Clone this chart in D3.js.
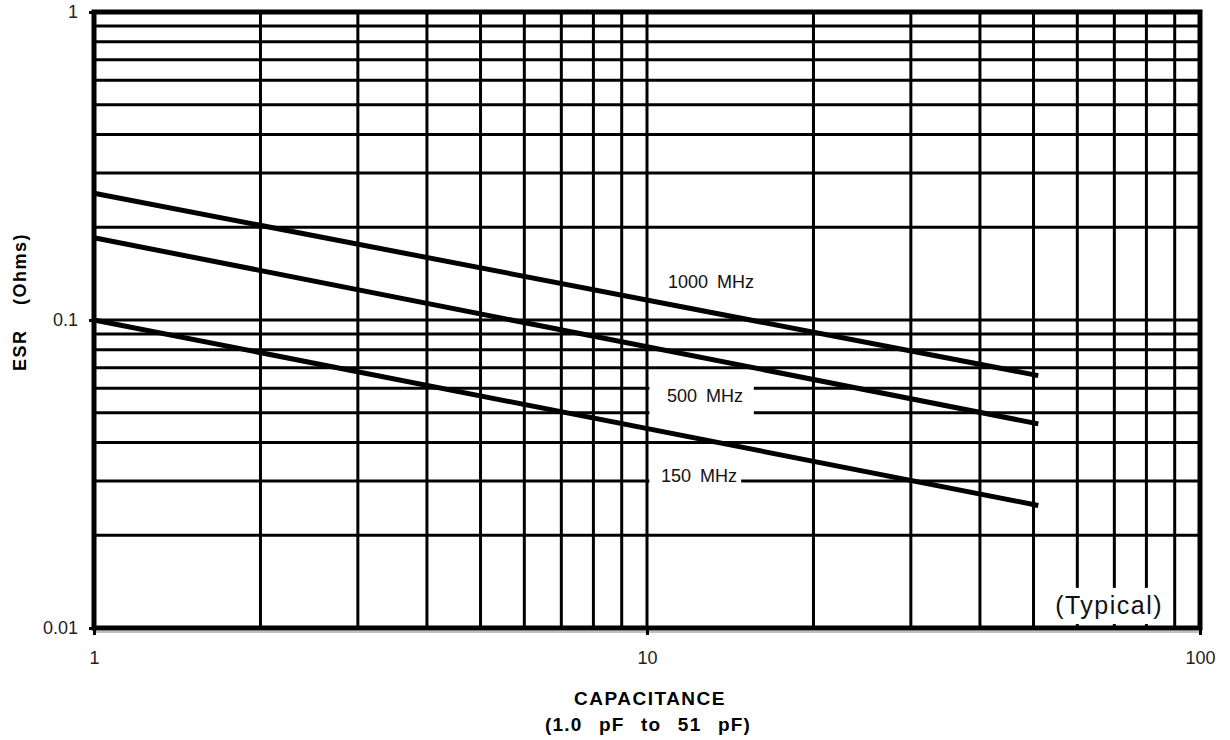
<!DOCTYPE html>
<html>
<head>
<meta charset="utf-8">
<script src="https://cdn.jsdelivr.net/npm/d3@7"></script>
<style>
  body { margin: 0; background: #fff; }
  text { font-family: "Liberation Sans", Arial, sans-serif; }
</style>
</head>
<body>
<div class="canvas"></div>
<script>
// data
const capacitance = [1, 51]
const series1000 = [0.258, 0.066]
const series500 = [0.185, 0.046]
const series150 = [0.1, 0.025]
const seriesNames = ['1000 MHz', '500 MHz', '150 MHz']
const xTicks = [1, 10, 100]
const yTicks = [1, 0.1, 0.01]
const xTickLabels = ['1', '10', '100']
const yTickLabels = ['1', '0.1', '0.01']

const svg = d3.select('.canvas')
  .append('svg')
  .attr('width', 1230)
  .attr('height', 740)

const margin = { top: 12, right: 30, bottom: 112, left: 94 }
const graphWidth = 1230 - margin.left - margin.right   // 1106
const graphHeight = 740 - margin.top - margin.bottom   // 616

const graph = svg.append('g')
  .attr('transform', `translate(${margin.left}, ${margin.top})`)

// scales
const x = d3.scaleLog().domain([1, 100]).range([0, graphWidth])
const y = d3.scaleLog().domain([0.01, 1]).range([graphHeight, 0])

// minor grid values (2..9 in each decade)
const minorX = [], minorY = []
for (const base of [1, 10]) for (let k = 2; k <= 9; k++) minorX.push(base * k)
for (const base of [0.01, 0.1]) for (let k = 2; k <= 9; k++) minorY.push(+(base * k).toFixed(3))

// light shadow under the bottom frame
graph.append('line')
  .attr('x1', 0).attr('x2', graphWidth)
  .attr('y1', graphHeight + 4).attr('y2', graphHeight + 4)
  .attr('stroke', '#aaa').attr('stroke-width', 1.5)

// grid
graph.append('g').selectAll('line')
  .data(minorY.concat([0.1]))
  .enter().append('line')
  .attr('x1', 0).attr('x2', graphWidth)
  .attr('y1', d => y(d)).attr('y2', d => y(d))
  .attr('stroke', '#000').attr('stroke-width', 3)

graph.append('g').selectAll('line')
  .data(minorX.concat([10]))
  .enter().append('line')
  .attr('y1', 0).attr('y2', graphHeight)
  .attr('x1', d => x(d)).attr('x2', d => x(d))
  .attr('stroke', '#000').attr('stroke-width', 3)

// white boxes behind the labels (in capacitance / ESR units)
const boxes = [
  { x0: 10.1, x1: 15.6, y0: 0.062, y1: 0.0465 },
  { x0: 10.1, x1: 14.8, y0: 0.0325, y1: 0.0275 },
  { x0: 51.5, x1: 83.5, y0: 0.0135, y1: 0.0103 }
]
graph.append('g').selectAll('rect')
  .data(boxes)
  .enter().append('rect')
  .attr('x', d => x(d.x0))
  .attr('width', d => x(d.x1) - x(d.x0))
  .attr('y', d => y(d.y0))
  .attr('height', d => y(d.y1) - y(d.y0))
  .attr('fill', '#fff')

// frame
graph.append('rect')
  .attr('width', graphWidth).attr('height', graphHeight)
  .attr('fill', 'none').attr('stroke', '#000').attr('stroke-width', 5)

// axes
const xAxis = d3.axisBottom(x).tickValues(xTicks)
  .tickFormat((d, i) => xTickLabels[i]).tickSize(7).tickPadding(16)
const yAxis = d3.axisLeft(y).tickValues(yTicks)
  .tickFormat((d, i) => yTickLabels[i]).tickSize(5).tickPadding(11)

const xAxisGroup = graph.append('g')
  .attr('transform', `translate(0, ${graphHeight})`)
  .call(xAxis)
const yAxisGroup = graph.append('g').call(yAxis)

for (const g of [xAxisGroup, yAxisGroup]) {
  g.select('.domain').remove()
  g.selectAll('line').attr('stroke', '#000').attr('stroke-width', 3)
  g.selectAll('text').attr('font-size', 18).attr('fill', '#222')
    .style('font-family', '"Liberation Sans", Arial, sans-serif')
}

// series lines
const allSeries = [series1000, series500, series150]
const line = d3.line()
  .x((d, i) => x(capacitance[i]))
  .y(d => y(d))

graph.append('g').selectAll('path')
  .data(allSeries)
  .enter().append('path')
  .attr('d', d => line(d))
  .attr('fill', 'none')
  .attr('stroke', '#000')
  .attr('stroke-width', 5)

// series labels
const labelPos = [
  { cx: 13.05, cy: 0.1318 },
  { cx: 12.73, cy: 0.0562 },
  { cx: 12.42, cy: 0.0309 }
]
graph.append('g').selectAll('text')
  .data(seriesNames)
  .enter().append('text')
  .attr('x', (d, i) => x(labelPos[i].cx))
  .attr('y', (d, i) => y(labelPos[i].cy))
  .attr('text-anchor', 'middle')
  .attr('dominant-baseline', 'middle')
  .attr('font-size', 18)
  .attr('word-spacing', 4)
  .attr('fill', '#111')
  .text(d => d)

graph.append('text')
  .attr('x', x(68.5))
  .attr('y', y(0.0117))
  .attr('text-anchor', 'middle')
  .attr('dominant-baseline', 'middle')
  .attr('font-size', 25)
  .attr('letter-spacing', 1.5)
  .attr('fill', '#111')
  .text('(Typical)')

// axis titles
svg.append('text')
  .attr('x', 650).attr('y', 705)
  .attr('text-anchor', 'middle')
  .attr('font-size', 19).attr('font-weight', 'bold')
  .attr('letter-spacing', 1.5)
  .text('CAPACITANCE')

svg.append('text')
  .attr('x', 648).attr('y', 731)
  .attr('text-anchor', 'middle')
  .attr('font-size', 19).attr('font-weight', 'bold')
  .attr('letter-spacing', 1.2)
  .attr('word-spacing', 10)
  .text('(1.0 pF to 51 pF)')

svg.append('text')
  .attr('transform', 'translate(26, 302) rotate(-90)')
  .attr('text-anchor', 'middle')
  .attr('font-size', 18).attr('font-weight', 'bold')
  .attr('letter-spacing', 1.5)
  .attr('word-spacing', 18)
  .text('ESR (Ohms)')
</script>
</body>
</html>
